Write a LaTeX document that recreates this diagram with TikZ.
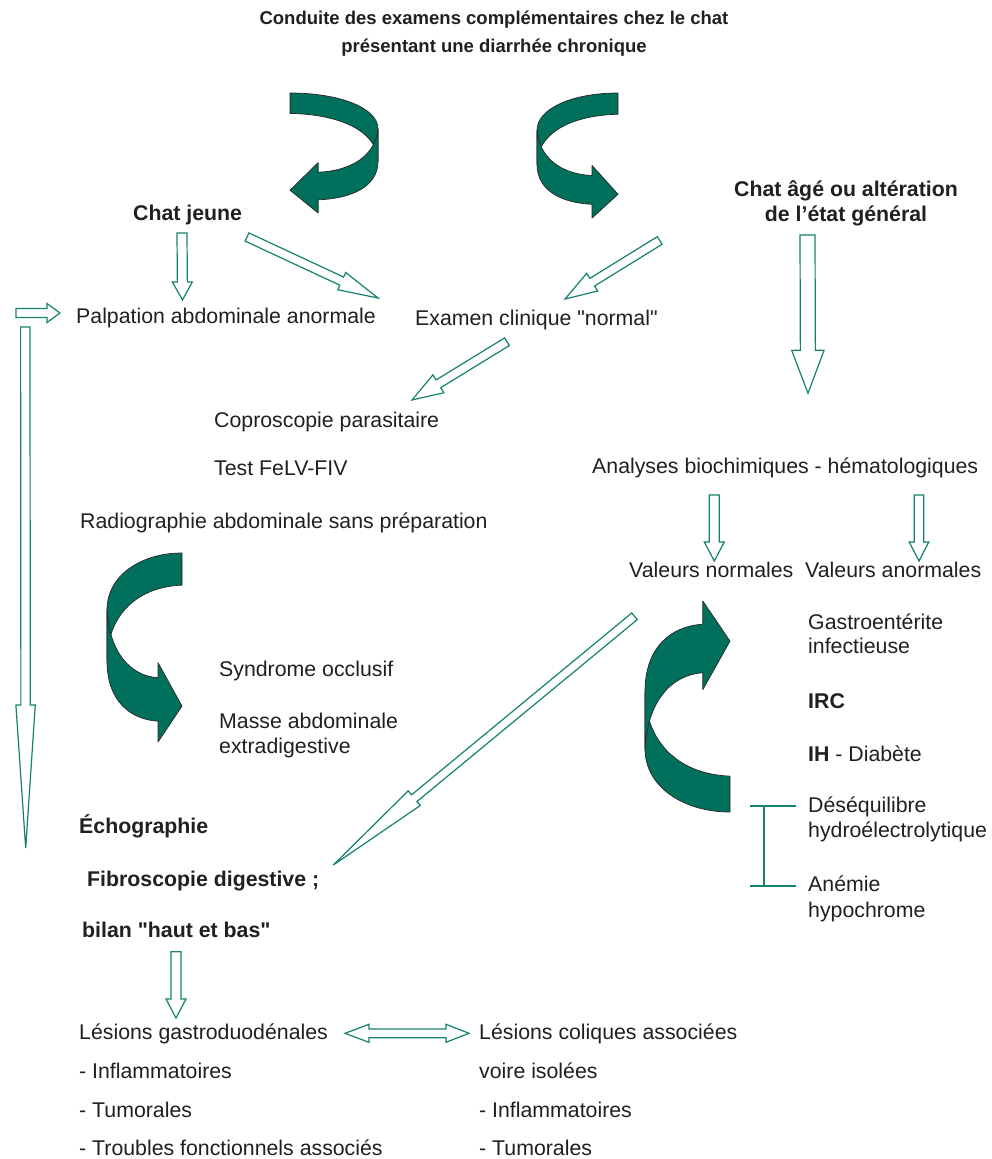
\documentclass[tikz,border=0pt]{standalone}
\usepackage{fontspec}
\setmainfont{Liberation Sans}[Ligatures=TeXOff]
\usetikzlibrary{calc}
\definecolor{tealline}{RGB}{20,130,110}
\definecolor{curvefillc}{RGB}{0,111,91}
\definecolor{txtc}{RGB}{35,31,32}
\tikzset{
  txt/.style={anchor=base west, inner sep=0pt, text=txtc, font=\fontsize{21.3}{25}\selectfont},
  btxt/.style={txt, font=\fontsize{21.3}{25}\selectfont\bfseries},
  ctxt/.style={anchor=base, inner sep=0pt, text=txtc, font=\fontsize{21.3}{25}\selectfont\bfseries},
  ttl/.style={anchor=base, inner sep=0pt, text=txtc, font=\fontsize{18.5}{22}\selectfont\bfseries},
  blockarrow/.style={draw=tealline, line width=1.2pt, fill=white, line join=miter},
  curvefill/.style={fill=curvefillc, draw=black!85, line width=0.7pt, line join=round},
  bracketline/.style={draw=tealline, line width=1.2pt},
}
% block arrow: #1 start, #2 tip, #3 half shaft width, #4 half head width, #5 head length
\newcommand{\blockarr}[5]{%
  \coordinate (ba-c) at ($(#2)!#5!(#1)$);
  \draw[blockarrow] ($(#1)!#3!90:(#2)$) -- ($(ba-c)!#3!-90:(#1)$) -- ($(ba-c)!#4!-90:(#1)$) -- (#2)
     -- ($(ba-c)!#4!90:(#1)$) -- ($(ba-c)!#3!90:(#1)$) -- ($(#1)!#3!-90:(#2)$) -- cycle;
}
% curved ribbon arrow in unit box
\newcommand{\curvedshape}{%
  \filldraw[curvefill] (1,0) .. controls (0.45,0) and (0,0.12) .. (0,0.3) -- (0,0.57)
     .. controls (0,0.35) and (0.35,0.18) .. (1,0.17) -- cycle;
  \filldraw[curvefill] (0,0.3) .. controls (0.03,0.52) and (0.3,0.65) .. (0.68,0.66)
     -- (0.68,0.58) -- (1,0.81) -- (0.68,1) -- (0.68,0.89)
     .. controls (0.3,0.88) and (0,0.78) .. (0,0.57) -- cycle;
}
\begin{document}
\begin{tikzpicture}[x=1pt,y=-1pt]
\useasboundingbox (0,0) rectangle (991,1159);
\fill[white] (0,0) rectangle (991,1159);

% titles
\node[ttl] (t1) at (494,24) {Conduite des examens complémentaires chez le chat};
\node[ttl] (t2) at (494,52) {présentant une diarrhée chronique};

% curved arrows
\begin{scope}[shift={(378,93)}, xscale=-88, yscale=120] \curvedshape \end{scope}
\begin{scope}[shift={(537,93)}, xscale=81, yscale=125] \curvedshape \end{scope}
\begin{scope}[shift={(107,553)}, xscale=75, yscale=189] \curvedshape \end{scope}
\begin{scope}[shift={(645,812)}, xscale=85, yscale=-211] \curvedshape \end{scope}

% texts
\node[btxt] (jeune) at (133,220) {Chat jeune};
\node[ctxt] (age1) at (846,196) {Chat âgé ou altération};
\node[ctxt] (age2) at (846,221) {de l’état général};
\node[txt] (palp) at (76,323) {Palpation abdominale anormale};
\node[txt] (exam) at (415,325) {Examen clinique "normal"};
\node[txt] (copro) at (214,427) {Coproscopie parasitaire};
\node[txt] (test) at (214,475) {Test FeLV-FIV};
\node[txt] (radio) at (80,528) {Radiographie abdominale sans préparation};
\node[txt] (analy) at (592,473) {Analyses biochimiques - hématologiques};
\node[txt] (vnorm) at (629,577) {Valeurs normales};
\node[txt] (vanorm) at (805,577) {Valeurs anormales};
\node[txt] (gastro1) at (808,629) {Gastroentérite};
\node[txt] (gastro2) at (808,653) {infectieuse};
\node[btxt] (irc) at (808,708) {IRC};
\node[txt] (ih) at (808,761) {\textbf{IH} - Diabète};
\node[txt] (dese1) at (808,812) {Déséquilibre};
\node[txt] (dese2) at (808,837) {hydroélectrolytique};
\node[txt] (anem1) at (808,891) {Anémie};
\node[txt] (anem2) at (808,917) {hypochrome};
\node[txt] (synd) at (219,676) {Syndrome occlusif};
\node[txt] (masse1) at (219,728) {Masse abdominale};
\node[txt] (masse2) at (219,753) {extradigestive};
\node[btxt] (echo) at (79,833) {Échographie};
\node[btxt] (fibro) at (87,886) {Fibroscopie digestive ;};
\node[btxt] (bilan) at (82,937) {bilan "haut et bas"};
\node[txt] (lg1) at (79,1039) {Lésions gastroduodénales};
\node[txt] (lg2) at (79,1078) {- Inflammatoires};
\node[txt] (lg3) at (79,1117) {- Tumorales};
\node[txt] (lg4) at (79,1155) {- Troubles fonctionnels associés};
\node[txt] (lc1) at (479,1039) {Lésions coliques associées};
\node[txt] (lc2) at (479,1078) {voire isolées};
\node[txt] (lc3) at (479,1117) {- Inflammatoires};
\node[txt] (lc4) at (479,1155) {- Tumorales};

% block arrows
\coordinate (a1s) at (182,233);   \coordinate (a1e) at (182.5,300);
\blockarr{a1s}{a1e}{5pt}{10pt}{18pt}
\coordinate (a2s) at (247,237);   \coordinate (a2e) at (378,298);
\blockarr{a2s}{a2e}{4.5pt}{9.5pt}{40pt}
\coordinate (a3s) at (16,313);    \coordinate (a3e) at (60,313);
\blockarr{a3s}{a3e}{4.5pt}{9.5pt}{13pt}
\coordinate (a4s) at (25.3,327);  \coordinate (a4e) at (25.7,848);
\blockarr{a4s}{a4e}{4.7pt}{9.7pt}{143pt}
\coordinate (a5s) at (507,341.7); \coordinate (a5e) at (412,400);
\blockarr{a5s}{a5e}{4.5pt}{10.5pt}{31pt}
\coordinate (a6s) at (659.7,240.5); \coordinate (a6e) at (565,299);
\blockarr{a6s}{a6e}{4.5pt}{10.4pt}{32pt}
\coordinate (a7s) at (807.5,235); \coordinate (a7e) at (808,393.3);
\blockarr{a7s}{a7e}{7.5pt}{16.2pt}{43pt}
\coordinate (a8s) at (714.3,495); \coordinate (a8e) at (714.3,561);
\blockarr{a8s}{a8e}{5pt}{10pt}{19pt}
\coordinate (a9s) at (919,495);   \coordinate (a9e) at (919,561);
\blockarr{a9s}{a9e}{4.7pt}{9.8pt}{19pt}
\coordinate (a10s) at (634.5,616.3); \coordinate (a10e) at (333.3,865);
\blockarr{a10s}{a10e}{4.3pt}{9.5pt}{105pt}
\coordinate (a11s) at (176,951.7); \coordinate (a11e) at (176,1018);
\blockarr{a11s}{a11e}{5pt}{10pt}{19pt}

% double arrow
\coordinate (dl) at (345,1033.3); \coordinate (dr) at (469,1033.3);
\draw[blockarrow] (dl) -- ++(24,-9) -- ++(0,4.7) -- ++(77,0) -- ++(0,-4.7) -- (dr)
   -- ++(-23,9) -- ++(0,-4.5) -- ++(-77,0) -- ++(0,4.5) -- cycle;

% bracket
\coordinate (bt) at (764,806); \coordinate (bb) at (764,886);
\draw[bracketline] (bt) -- (bb);
\draw[bracketline] ($(bt)+(-14,0)$) -- ($(bt)+(32,0)$);
\draw[bracketline] ($(bb)+(-14,0)$) -- ($(bb)+(32,0)$);
\end{tikzpicture}
\end{document}
